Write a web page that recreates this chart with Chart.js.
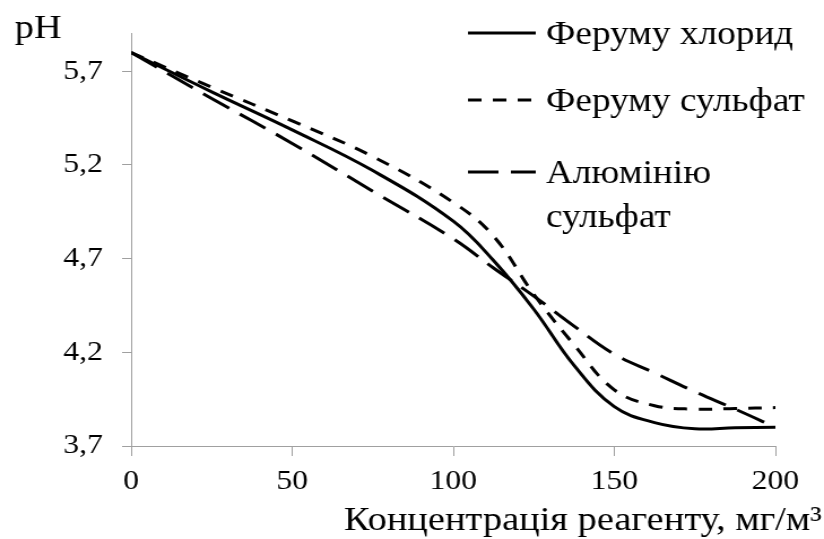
<!DOCTYPE html>
<html>
<head>
<meta charset="utf-8">
<script src="https://cdn.jsdelivr.net/npm/chart.js@4.4.1/dist/chart.umd.min.js"></script>
<style>
  html, body { margin: 0; padding: 0; background: #fff; overflow: hidden; }
  /* the original figure is slightly stretched sideways, so draw narrow and widen */
  #wrap { width: 729px; height: 539px; transform: scaleX(1.1303); transform-origin: 0 0; }
  canvas { display: block; }
</style>
</head>
<body>
<div id="wrap"><canvas id="phChart" width="729" height="539"></canvas></div>
<script>
// --- DATA ---
const concentration = [0, 25, 50, 75, 100, 112.5, 125, 137.5, 150, 162.5, 175, 187.5, 200];
const ironChloride  = [5.80, 5.59, 5.387, 5.17, 4.90, 4.69, 4.43, 4.13, 3.91, 3.825, 3.792, 3.797, 3.80];
const ironSulfate   = [5.80, 5.615, 5.435, 5.245, 5.00, 4.82, 4.51, 4.24, 4.00, 3.915, 3.897, 3.90, 3.905];
const alumSulfate   = [5.80, 5.555, 5.315, 5.06, 4.806, 4.65, 4.50, 4.34, 4.19, 4.09, 3.99, 3.897, 3.80];
const seriesNames   = ['Феруму хлорид', 'Феруму сульфат', 'Алюмінію\nсульфат'];
const yTicks = [3.7, 4.2, 4.7, 5.2, 5.7];
const xTicks = [0, 50, 100, 150, 200];

const FONT = "'Liberation Serif', 'Times New Roman', serif";
const AXIS_GRAY = '#a0a0a0';

const toPoints = vals => vals.map((v, i) => ({ x: concentration[i], y: v }));

function makeSet(label, vals, dash) {
    return {
        label: label,
        data: toPoints(vals),
        borderColor: '#000',
        borderWidth: 3,
        borderDash: dash,
        borderCapStyle: 'butt',
        pointRadius: 0,
        tension: 0.4,
        fill: false
    };
}

// legend + axis captions drawn by hand, Excel-style
const captions = {
    id: 'captions',
    afterDraw(chart) {
        const ctx = chart.ctx;
        ctx.save();
        ctx.fillStyle = '#000';
        ctx.textBaseline = 'alphabetic';

        ctx.font = `34px ${FONT}`;
        ctx.textAlign = 'left';
        ctx.fillText('pH', 13, 38);

        ctx.textAlign = 'right';
        ctx.fillText('Концентрація реагенту, мг/м³', 727, 530);

        // legend
        const rows = [33, 100, 172];
        ctx.font = `33px ${FONT}`;
        ctx.textAlign = 'left';
        chart.data.datasets.forEach((ds, i) => {
            const y = rows[i];
            ctx.beginPath();
            ctx.setLineDash(ds.borderDash || []);
            ctx.lineWidth = 3;
            ctx.strokeStyle = '#000';
            ctx.moveTo(414, y);
            ctx.lineTo(474, y);
            ctx.stroke();
            ctx.setLineDash([]);
            seriesNames[i].split('\n').forEach((line, k) => {
                ctx.fillText(line, 483, y + 11 + k * 44);
            });
        });
        ctx.restore();
    }
};

new Chart(document.getElementById('phChart'), {
    type: 'line',
    data: {
        datasets: [
            makeSet(seriesNames[0], ironChloride, []),
            makeSet(seriesNames[1], ironSulfate, [12, 10]),
            makeSet(seriesNames[2], alumSulfate, [27, 11])
        ]
    },
    options: {
        responsive: false,
        animation: false,
        devicePixelRatio: 1,
        layout: { padding: { left: 0, right: 43, top: 18, bottom: 0 } },
        plugins: {
            legend: { display: false },
            tooltip: { enabled: false }
        },
        scales: {
            x: {
                type: 'linear',
                min: 0,
                max: 200,
                afterBuildTicks: s => { s.ticks = xTicks.map(v => ({ value: v })); },
                afterFit: s => { s.height = 93; },
                border: { color: AXIS_GRAY, width: 1 },
                grid: { drawOnChartArea: false, drawTicks: true, tickLength: 10, color: AXIS_GRAY },
                ticks: {
                    color: '#000',
                    padding: 9,
                    maxRotation: 0,
                    font: { family: FONT, size: 28 }
                }
            },
            y: {
                type: 'linear',
                min: 3.7,
                max: 5.9,
                afterBuildTicks: s => { s.ticks = yTicks.map(v => ({ value: v })); },
                afterFit: s => { s.width = 116; },
                border: { color: AXIS_GRAY, width: 1 },
                grid: { drawOnChartArea: false, drawTicks: true, tickLength: 8, color: AXIS_GRAY },
                ticks: {
                    color: '#000',
                    padding: 17,
                    font: { family: FONT, size: 28 },
                    callback: v => v.toFixed(1).replace('.', ',')
                }
            }
        }
    },
    plugins: [captions]
});
</script>
</body>
</html>
